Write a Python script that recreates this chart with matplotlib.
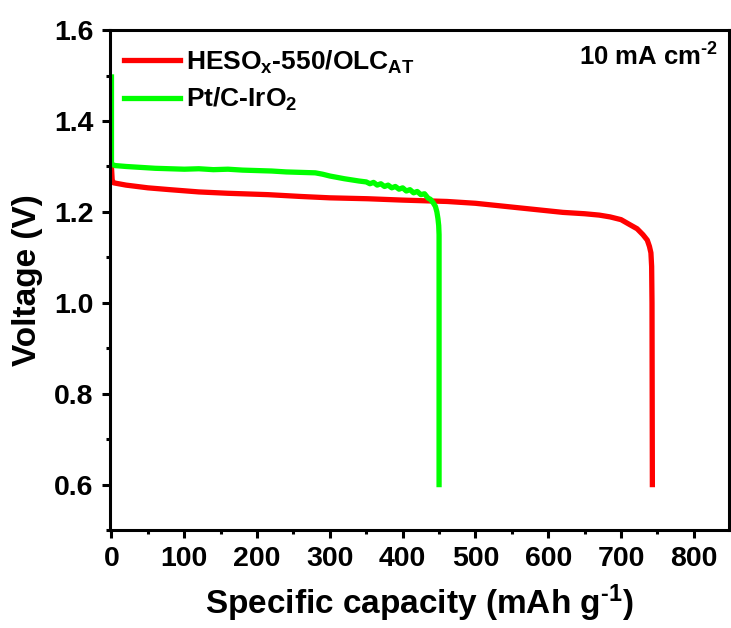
import matplotlib
matplotlib.use("Agg")
import matplotlib.pyplot as plt
from matplotlib.ticker import MultipleLocator, FixedLocator

plt.rcParams['font.family'] = ['Liberation Sans', 'DejaVu Sans']
plt.rcParams['font.weight'] = 'bold'
plt.rcParams['mathtext.fontset'] = 'custom'
plt.rcParams['mathtext.rm'] = 'Liberation Sans:bold'
plt.rcParams['mathtext.it'] = 'Liberation Sans:bold'
plt.rcParams['mathtext.bf'] = 'Liberation Sans:bold'
plt.rcParams['mathtext.sf'] = 'Liberation Sans:bold'

# Discharge curves at 10 mA cm^-2
heso_capacity = [0, 1, 3, 20, 50, 80, 120, 160, 215, 260, 300, 352, 400, 461,
                 500, 530, 560, 590, 620, 650, 670, 685, 700, 712, 722, 730,
                 736, 739, 741, 742, 742.5, 743]
heso_voltage = [1.298, 1.270, 1.264, 1.259, 1.253, 1.249, 1.244, 1.241, 1.238,
                1.234, 1.231, 1.229, 1.226, 1.223, 1.219, 1.214, 1.209, 1.204,
                1.199, 1.196, 1.193, 1.189, 1.183, 1.172, 1.163, 1.150, 1.138,
                1.124, 1.110, 1.080, 1.000, 0.600]

ptc_capacity = [0, 0, 5, 20, 40, 60, 80, 100, 120, 140, 160, 180, 200, 220, 240,
                260, 280, 290, 300, 320, 340, 350, 355, 360, 365, 370, 375, 380,
                385, 390, 395, 400, 405, 410, 415, 420, 425, 430, 435, 438, 442,
                445, 447, 448.5, 449.5, 450, 450, 450]
ptc_voltage = [1.497, 1.305, 1.302, 1.300, 1.298, 1.296, 1.295, 1.294, 1.295,
               1.293, 1.294, 1.292, 1.291, 1.290, 1.288, 1.287, 1.286, 1.283,
               1.279, 1.273, 1.268, 1.266, 1.262, 1.265, 1.259, 1.262, 1.256,
               1.259, 1.253, 1.256, 1.250, 1.253, 1.246, 1.249, 1.242, 1.245,
               1.238, 1.240, 1.230, 1.228, 1.220, 1.212, 1.200, 1.185, 1.170,
               1.150, 1.000, 0.600]

x_ticks = [0, 100, 200, 300, 400, 500, 600, 700, 800]
y_ticks = [0.6, 0.8, 1.0, 1.2, 1.4, 1.6]

fig = plt.figure(figsize=(7.31, 6.28), dpi=100)
ax = fig.add_axes([0.1505, 0.156, 0.8465, 0.796])

ax.plot(heso_capacity, heso_voltage, color='#ff0000', lw=3.8,
        label='HESO$_{x}$-550/OLC$_{AT}$', solid_joinstyle='round')
ax.plot(ptc_capacity, ptc_voltage, color='#00ff00', lw=3.8,
        label='Pt/C-IrO$_{2}$', solid_joinstyle='round')

ax.set_xlim(-2, 848)
ax.set_ylim(0.5, 1.6)
ax.xaxis.set_major_locator(FixedLocator(x_ticks))
ax.xaxis.set_minor_locator(MultipleLocator(50))
ax.yaxis.set_major_locator(FixedLocator(y_ticks))
ax.yaxis.set_minor_locator(FixedLocator([0.5, 0.7, 0.9, 1.1, 1.3, 1.5]))
ax.set_xticklabels([str(v) for v in x_ticks])
ax.set_yticklabels([f'{v:.1f}' for v in y_ticks])

for s in ax.spines.values():
    s.set_linewidth(2.2)
ax.tick_params(which='major', direction='out', length=5.8, width=2.2,
               labelsize=20.5, pad=6)
ax.tick_params(which='minor', direction='out', length=3, width=2.2)
ax.tick_params(top=False, right=False, which='both')

ax.set_xlabel(r'Specific capacity (mAh g$^{\text{-}1}$)', fontsize=24,
              fontweight='bold', labelpad=7)
ax.set_ylabel('Voltage (V)', fontsize=24, fontweight='bold', labelpad=8)

ax.text(0.982, 0.946, r'10 mA cm$^{\text{-}2}$', transform=ax.transAxes, ha='right',
        va='center', fontsize=18.5, fontweight='bold')

leg = ax.legend(loc='upper left', bbox_to_anchor=(-0.008, 1.0), frameon=False,
                fontsize=19, handlelength=2.15, handletextpad=0.22,
                labelspacing=0.38, borderpad=0.2)
for line in leg.get_lines():
    line.set_linewidth(3.8)

fig.savefig('out.png', dpi=100)
